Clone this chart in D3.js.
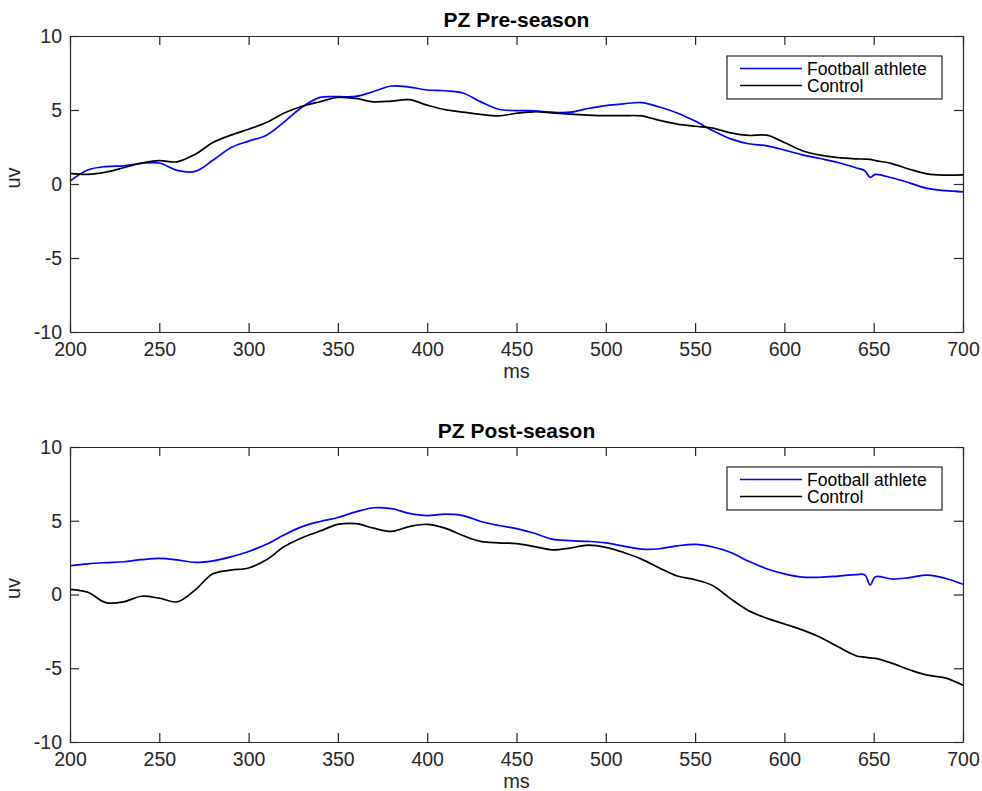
<!DOCTYPE html>
<html>
<head>
<meta charset="utf-8">
<script src="https://cdn.jsdelivr.net/npm/d3@7"></script>
<style>
  body { margin: 0; background: #fff; }
  text { font-family: "Liberation Sans", Arial, Helvetica, sans-serif; }
</style>
</head>
<body>
<script>
// time points (ms), shared by all series
const ms = [200,210,220,230,240,250,260,270,280,290,300,310,320,330,340,350,360,370,380,390,
  400,410,420,430,440,450,460,470,480,490,500,510,520,530,540,550,560,570,580,590,
  600,610,620,630,640,645,648,651,660,670,680,690,700];

// PZ Pre-season
const preAthlete = [0.2,0.95,1.18,1.23,1.4,1.42,0.92,0.85,1.6,2.45,2.9,3.3,4.2,5.2,5.85,5.9,5.92,6.25,6.62,6.55,
  6.35,6.3,6.15,5.55,5.05,4.96,4.95,4.85,4.85,5.1,5.3,5.42,5.5,5.2,4.8,4.25,3.6,3.05,2.72,2.58,
  2.3,1.97,1.72,1.45,1.1,0.9,0.45,0.65,0.42,0.08,-0.3,-0.45,-0.53];
const preControl = [0.72,0.65,0.8,1.1,1.42,1.58,1.5,2.0,2.8,3.3,3.7,4.15,4.8,5.25,5.56,5.85,5.78,5.55,5.6,5.7,
  5.33,5.02,4.86,4.7,4.6,4.78,4.88,4.8,4.72,4.66,4.62,4.62,4.6,4.3,4.05,3.9,3.78,3.45,3.28,3.3,
  2.8,2.25,1.95,1.78,1.7,1.68,1.66,1.58,1.38,1.0,0.68,0.6,0.61];

// PZ Post-season
const postAthlete = [1.95,2.08,2.16,2.22,2.36,2.45,2.35,2.18,2.28,2.55,2.92,3.4,4.05,4.6,4.95,5.22,5.6,5.88,5.82,5.5,
  5.35,5.45,5.35,4.95,4.68,4.47,4.15,3.75,3.65,3.6,3.5,3.28,3.08,3.1,3.3,3.4,3.22,2.85,2.25,1.75,
  1.4,1.18,1.17,1.25,1.35,1.33,0.64,1.21,1.05,1.15,1.32,1.1,0.69];
const postControl = [0.35,0.15,-0.55,-0.5,-0.12,-0.25,-0.5,0.3,1.4,1.65,1.8,2.35,3.25,3.85,4.3,4.75,4.8,4.5,4.28,4.6,
  4.76,4.5,4.0,3.6,3.5,3.45,3.25,3.03,3.15,3.35,3.2,2.85,2.4,1.8,1.25,1.0,0.6,-0.3,-1.1,-1.6,
  -2.0,-2.4,-2.9,-3.55,-4.15,-4.25,-4.3,-4.33,-4.65,-5.1,-5.47,-5.65,-6.15];

const xTicks = [200,250,300,350,400,450,500,550,600,650,700];
const yTicks = [-10,-5,0,5,10];
const seriesNames = ["Football athlete", "Control"];
const seriesColors = ["#0000ff", "#000000"];

const W = 982, H = 791;
const axisColor = "#262626";

const svg = d3.select("body").append("svg")
  .attr("width", W)
  .attr("height", H);

const x = d3.scaleLinear().domain([200, 700]).range([70, 963]);

function panel(top, bottom, title, series) {
  const y = d3.scaleLinear().domain([-10, 10]).range([bottom, top]);
  const g = svg.append("g");

  // lines
  const line = d3.line()
    .x((d, i) => x(ms[i]))
    .y(d => y(d))
    .curve(d3.curveCatmullRom.alpha(0.5));

  series.forEach((s, k) => {
    g.append("path")
      .datum(s)
      .attr("fill", "none")
      .attr("stroke", seriesColors[k])
      .attr("stroke-width", 1.7)
      .attr("d", line);
  });

  // box axes, ticks inside
  const fmt = d => String(d);
  const bottomAx = g.append("g").attr("transform", `translate(0,${bottom})`)
    .call(d3.axisBottom(x).tickValues(xTicks).tickSize(-9).tickSizeOuter(0).tickPadding(10).tickFormat(fmt));
  const topAx = g.append("g").attr("transform", `translate(0,${top})`)
    .call(d3.axisTop(x).tickValues(xTicks).tickSize(-9).tickSizeOuter(0).tickFormat(""));
  const leftAx = g.append("g").attr("transform", `translate(70,0)`)
    .call(d3.axisLeft(y).tickValues(yTicks).tickSize(-9).tickSizeOuter(0).tickPadding(8).tickFormat(fmt));
  const rightAx = g.append("g").attr("transform", `translate(963,0)`)
    .call(d3.axisRight(y).tickValues(yTicks).tickSize(-9).tickSizeOuter(0).tickFormat(""));

  [bottomAx, topAx, leftAx, rightAx].forEach(a => {
    a.selectAll("path, line").attr("stroke", axisColor).attr("stroke-width", 1.2);
    a.selectAll("text").attr("fill", axisColor).style("font-size", "19.5px")
      .style("font-family", "'Liberation Sans', Arial, sans-serif");
  });

  // title
  g.append("text")
    .attr("x", (70 + 963) / 2)
    .attr("y", top - 9)
    .attr("text-anchor", "middle")
    .style("font-size", "21px")
    .style("font-weight", "bold")
    .attr("fill", "#000")
    .text(title);

  // axis labels
  g.append("text")
    .attr("x", (70 + 963) / 2)
    .attr("y", bottom + 46)
    .attr("text-anchor", "middle")
    .style("font-size", "20px")
    .attr("fill", axisColor)
    .text("ms");

  g.append("text")
    .attr("transform", `translate(20,${(top + bottom) / 2 - 6}) rotate(-90)`)
    .attr("text-anchor", "middle")
    .style("font-size", "20px")
    .attr("fill", axisColor)
    .text("uv");

  // legend
  const lg = g.append("g").attr("transform", `translate(727,${top + 20})`);
  lg.append("rect")
    .attr("width", 215).attr("height", 43)
    .attr("fill", "#fff")
    .attr("stroke", axisColor)
    .attr("stroke-width", 1.2);
  seriesNames.forEach((name, k) => {
    const ly = 12.5 + k * 17;
    lg.append("line")
      .attr("x1", 13).attr("x2", 75)
      .attr("y1", ly).attr("y2", ly)
      .attr("stroke", seriesColors[k])
      .attr("stroke-width", 1.7);
    lg.append("text")
      .attr("x", 80).attr("y", ly)
      .attr("dy", "0.35em")
      .style("font-size", "17.5px")
      .attr("fill", "#000")
      .text(name);
  });
}

panel(36, 332, "PZ Pre-season", [preAthlete, preControl]);
panel(447, 742, "PZ Post-season", [postAthlete, postControl]);
</script>
</body>
</html>
